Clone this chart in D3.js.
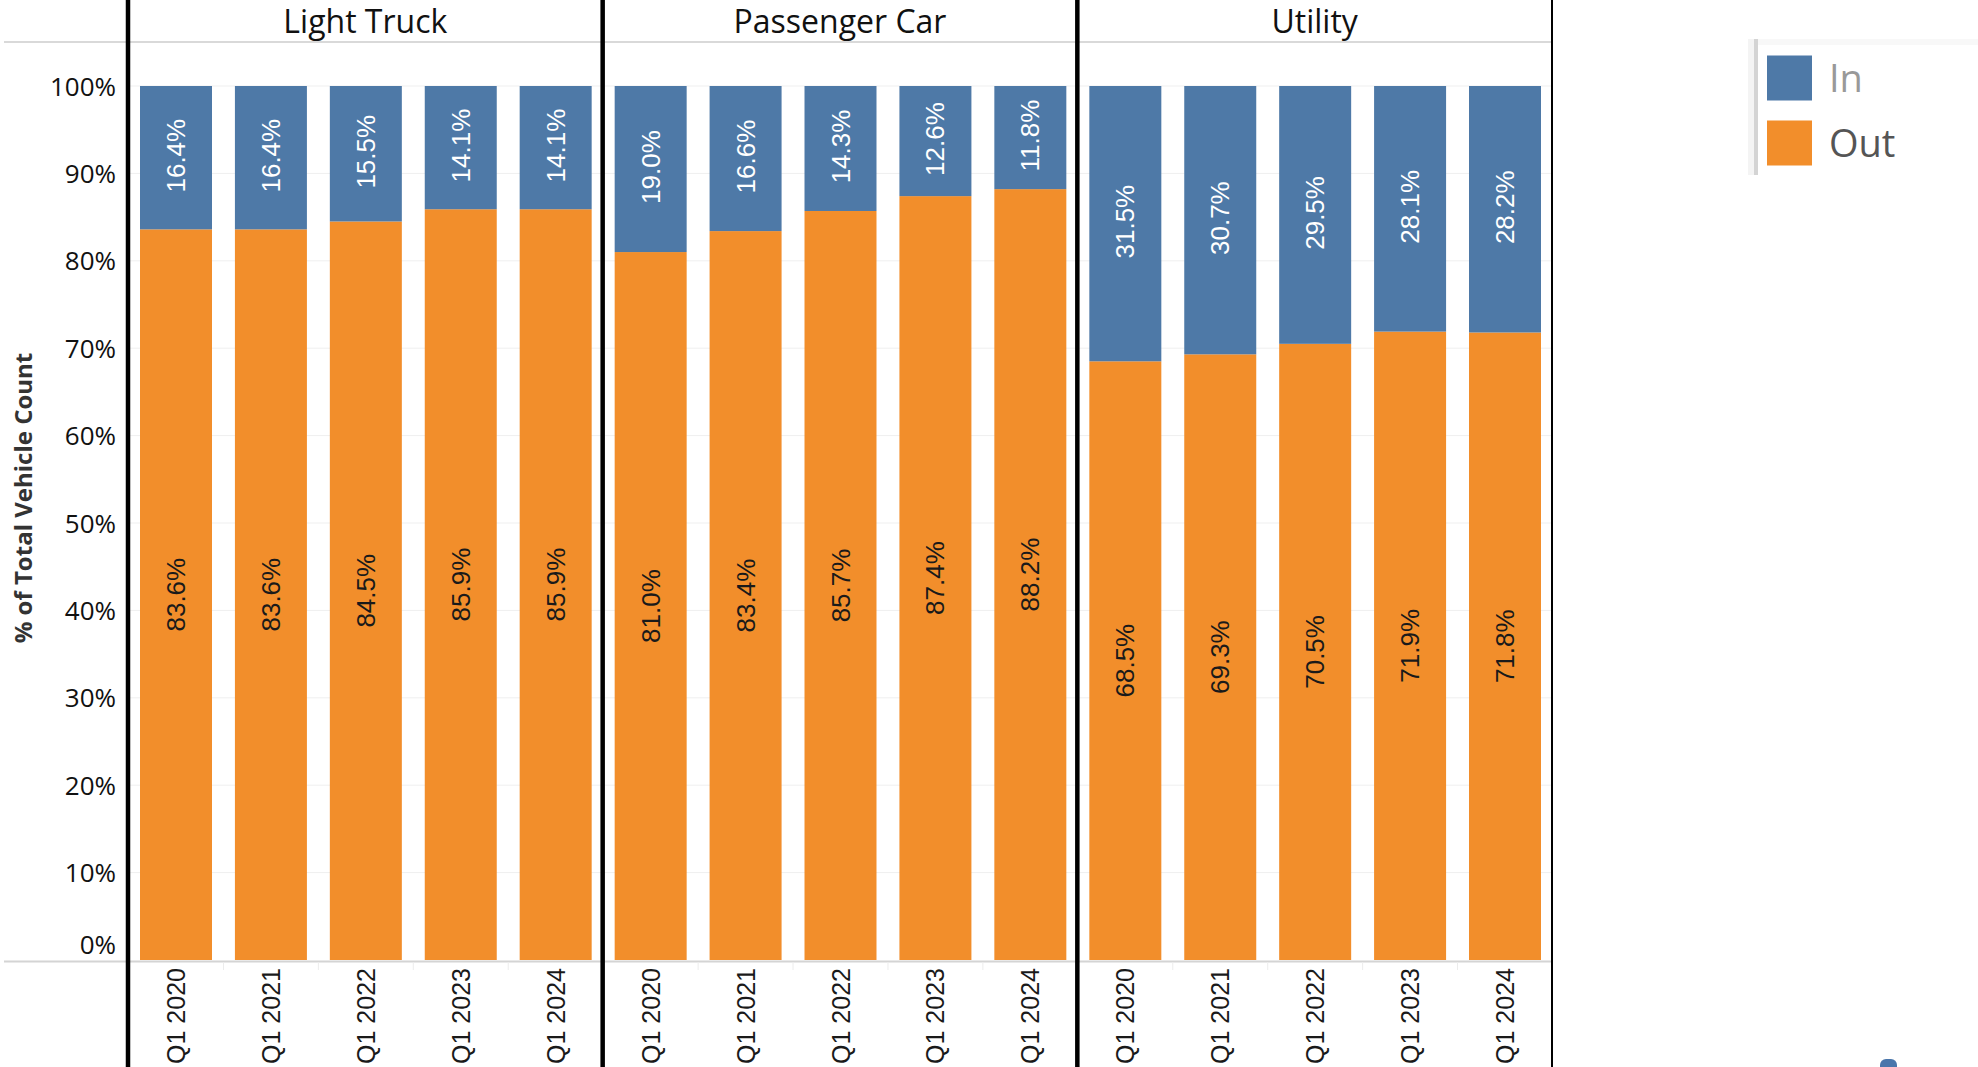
<!DOCTYPE html>
<html>
<head>
<meta charset="utf-8">
<script src="https://cdn.jsdelivr.net/npm/d3@7"></script>
<style>
  html, body { margin: 0; padding: 0; background: #fff; overflow: hidden; }
  svg { display: block; }
</style>
</head>
<body>
<svg id="chart" width="1978" height="1067"></svg>
<script>
// ---- data ----
const panels = ["Light Truck", "Passenger Car", "Utility"];
const quarters = ["Q1 2020", "Q1 2021", "Q1 2022", "Q1 2023", "Q1 2024"];
const lightTruckIn   = [16.4, 16.4, 15.5, 14.1, 14.1];
const lightTruckOut  = [83.6, 83.6, 84.5, 85.9, 85.9];
const passengerCarIn  = [19.0, 16.6, 14.3, 12.6, 11.8];
const passengerCarOut = [81.0, 83.4, 85.7, 87.4, 88.2];
const utilityIn  = [31.5, 30.7, 29.5, 28.1, 28.2];
const utilityOut = [68.5, 69.3, 70.5, 71.9, 71.8];
const yTicks = [0, 10, 20, 30, 40, 50, 60, 70, 80, 90, 100];
const seriesNames = ["In", "Out"];
const seriesColors = ["#4e79a7", "#f28e2b"];

const inByPanel = [lightTruckIn, passengerCarIn, utilityIn];
const outByPanel = [lightTruckOut, passengerCarOut, utilityOut];

const rows = [];
panels.forEach((p, i) => {
  quarters.forEach((q, j) => {
    rows.push({ panel: p, quarter: q, In: inByPanel[i][j], Out: outByPanel[i][j] });
  });
});

// ---- layout ----
const svg = d3.select("#chart");
const plotLeft = 128, plotRight = 1552;
const plotTop = 86, plotBottom = 960;
const headerLineY = 42;

const px = d3.scaleBand().domain(panels).range([plotLeft, plotRight]);
const y = d3.scaleLinear().domain([0, 100]).range([plotBottom, plotTop]);
const color = d3.scaleOrdinal().domain(seriesNames).range(seriesColors);

const innerX = {};
panels.forEach(p => {
  const x0 = px(p), x1 = px(p) + px.bandwidth();
  innerX[p] = d3.scaleBand().domain(quarters).range([x0 + 12, x1 - 11]).paddingInner(0.2415).paddingOuter(0);
});

// gridlines
svg.append("g").selectAll("line").data(yTicks.filter(t => t > 0)).join("line")
  .attr("x1", plotLeft).attr("x2", plotRight)
  .attr("y1", d => y(d)).attr("y2", d => y(d))
  .attr("stroke", "#efefef").attr("stroke-width", 1);

// header line & bottom line
svg.append("line").attr("x1", 4).attr("x2", plotRight).attr("y1", headerLineY).attr("y2", headerLineY)
  .attr("stroke", "#d9d9d9").attr("stroke-width", 2);
svg.append("line").attr("x1", 4).attr("x2", plotRight).attr("y1", plotBottom + 1.5).attr("y2", plotBottom + 1.5)
  .attr("stroke", "#d4d4d4").attr("stroke-width", 2);

// small x ticks between categories
const tickData = [];
panels.forEach(p => {
  const s = innerX[p];
  quarters.slice(1).forEach(q => {
    tickData.push(s(q) - s.step() * s.paddingInner() / 2);
  });
});
svg.append("g").selectAll("line").data(tickData).join("line")
  .attr("x1", d => d).attr("x2", d => d)
  .attr("y1", plotBottom + 2).attr("y2", plotBottom + 10)
  .attr("stroke", "#ececec").attr("stroke-width", 1);

// bars
const barG = svg.append("g");
rows.forEach(r => {
  const s = innerX[r.panel];
  const bx = s(r.quarter), bw = s.bandwidth();
  barG.append("rect").attr("x", bx).attr("width", bw)
    .attr("y", y(r.Out)).attr("height", y(0) - y(r.Out))
    .attr("fill", color("Out"));
  barG.append("rect").attr("x", bx).attr("width", bw)
    .attr("y", y(100)).attr("height", y(r.Out) - y(100))
    .attr("fill", color("In"));
});

// bar labels
const labG = svg.append("g").attr("font-family", "'Liberation Sans', Arial, sans-serif").attr("font-size", 26);
rows.forEach(r => {
  const s = innerX[r.panel];
  const cx = s(r.quarter) + s.bandwidth() / 2;
  const cyIn = (y(100) + y(r.Out)) / 2;
  const cyOut = (y(r.Out) + y(0)) / 2;
  labG.append("text").attr("transform", `translate(${cx},${cyIn - 2}) rotate(-90)`)
    .attr("text-anchor", "middle").attr("dominant-baseline", "central")
    .attr("fill", "#ffffff").text(r.In.toFixed(1) + "%");
  labG.append("text").attr("transform", `translate(${cx},${cyOut}) rotate(-90)`)
    .attr("text-anchor", "middle").attr("dominant-baseline", "central")
    .attr("fill", "#1a1a1a").text(r.Out.toFixed(1) + "%");
});

// x labels
const xlG = svg.append("g").attr("font-family", "'Liberation Sans', Arial, sans-serif").attr("font-size", 25).attr("fill", "#1a1a1a");
rows.forEach(r => {
  const s = innerX[r.panel];
  const cx = s(r.quarter) + s.bandwidth() / 2;
  xlG.append("text").attr("transform", `translate(${cx},${plotBottom + 8}) rotate(-90)`)
    .attr("text-anchor", "end").attr("dominant-baseline", "central")
    .text(r.quarter);
});

// y axis tick labels
const yAxis = d3.axisLeft(y).tickValues(yTicks).tickFormat(d => d + "%").tickSize(0).tickPadding(0);
const yG = svg.append("g").attr("transform", `translate(116,0)`).call(yAxis);
yG.select(".domain").remove();
yG.selectAll("text")
  .attr("font-family", "'Open Sans', sans-serif").attr("font-size", 26).attr("fill", "#111")
  .attr("dy", "0.35em")
  .attr("y", d => d === 0 ? -16 : 0);

// y axis title
svg.append("text").attr("transform", `translate(22,498) rotate(-90)`)
  .attr("text-anchor", "middle").attr("dominant-baseline", "central")
  .attr("font-family", "'Open Sans', sans-serif").attr("font-weight", "bold")
  .attr("font-size", 24).attr("fill", "#333")
  .text("% of Total Vehicle Count");

// panel headers
svg.append("g").selectAll("text").data(panels).join("text")
  .attr("x", d => px(d) + px.bandwidth() / 2).attr("y", 33)
  .attr("text-anchor", "middle")
  .attr("font-family", "'Open Sans', sans-serif").attr("font-size", 32).attr("fill", "#111")
  .text(d => d);

// dividers
const divXs = panels.map(p => px(p));
svg.append("g").selectAll("line").data(divXs).join("line")
  .attr("x1", d => d).attr("x2", d => d).attr("y1", 0).attr("y2", 1067)
  .attr("stroke", "#000").attr("stroke-width", 4.5);
svg.append("line").attr("x1", plotRight).attr("x2", plotRight).attr("y1", 0).attr("y2", 1067)
  .attr("stroke", "#000").attr("stroke-width", 2);

// legend
const lg = svg.append("g");
lg.append("rect").attr("x", 1748).attr("y", 39).attr("width", 6).attr("height", 136).attr("fill", "#f4f4f4");
lg.append("rect").attr("x", 1754).attr("y", 39).attr("width", 4).attr("height", 136).attr("fill", "#d4d4d4");
lg.append("rect").attr("x", 1758).attr("y", 39).attr("width", 220).attr("height", 6).attr("fill", "#f8f8f8");
const legendY = d3.scalePoint().domain(seriesNames).range([78, 143]);
lg.selectAll(".sw").data(seriesNames).join("rect").attr("class", "sw")
  .attr("x", 1767).attr("y", d => legendY(d) - 22.5).attr("width", 45).attr("height", 45)
  .attr("fill", d => color(d));
lg.selectAll(".lt").data(seriesNames).join("text").attr("class", "lt")
  .attr("x", 1829).attr("y", d => legendY(d) + 14)
  .attr("font-family", "'Open Sans', sans-serif").attr("font-size", 38)
  .attr("fill", d => d === "In" ? "#999" : "#555")
  .text(d => d);

// small blue control at bottom right
svg.append("rect").attr("x", 1880).attr("y", 1059).attr("width", 17).attr("height", 16).attr("rx", 6)
  .attr("fill", "#4a76ab");
</script>
</body>
</html>
